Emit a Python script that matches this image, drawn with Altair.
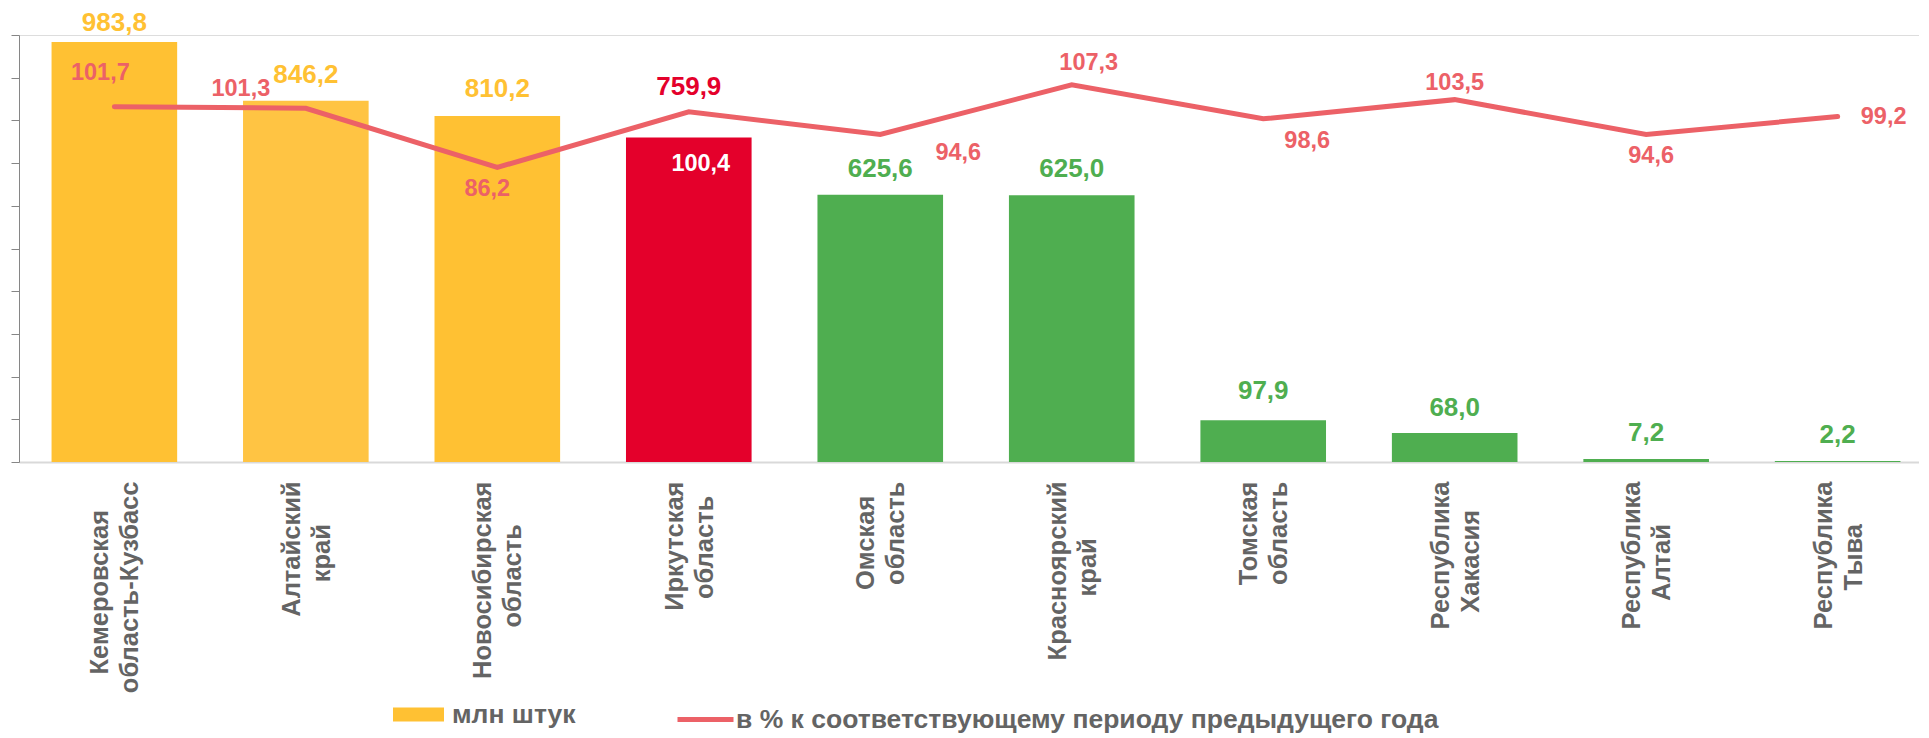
import altair as alt
import pandas as pd

# ---------------- data ----------------
region_line1 = ["Кемеровская", "Алтайский", "Новосибирская", "Иркутская", "Омская",
                "Красноярский", "Томская", "Республика", "Республика", "Республика"]
region_line2 = ["область-Кузбасс", "край", "область", "область", "область",
                "край", "область", "Хакасия", "Алтай", "Тыва"]
production_mln = [983.8, 846.2, 810.2, 759.9, 625.6, 625.0, 97.9, 68.0, 7.2, 2.2]
pct_prev_year = [101.7, 101.3, 86.2, 100.4, 94.6, 107.3, 98.6, 103.5, 94.6, 99.2]
bar_group = ["млн штук", "light", "млн штук", "red", "green",
             "green", "green", "green", "green", "green"]
bar_series = "млн штук"
line_series = "в % к соответствующему периоду предыдущего года"
y_ticks = list(range(0, 1001, 100))

# ---------------- styles ----------------
FONT = "Liberation Sans"
GREY = "#646464"
YELLOW = "#FFC133"
YELLOW_LIGHT = "#FFC443"
RED = "#E4002B"
GREEN = "#4FAE50"
LINE = "#EC6167"

group_domain = ["млн штук", "light", "red", "green"]
group_range = [YELLOW, YELLOW_LIGHT, RED, GREEN]
bar_label_color = {"млн штук": YELLOW, "light": YELLOW, "red": RED, "green": GREEN}

# label offsets (pixels, relative to bar top / line point)
bar_label_dy = [-19, -26, -27, -51, -26, -26, -29, -25, -26, -26]
pct_label_dx = [-14, -65, -10, 12, 78, 17, 44, 0, 5, 46]
pct_label_dy = [-34, -19, 22, 52, 18, -22, 22, -17, 21, 1]
pct_label_color = [LINE, LINE, LINE, "#FFFFFF", LINE, LINE, LINE, LINE, LINE, LINE]

PAD = "\u2007"   # figure space
JOIN = "\u2060"  # word joiner keeps the padding from being trimmed


def block(a, b):
    # two-line axis label, shorter line padded so the lines look centred
    n = round(abs(len(a) - len(b)) * 0.54)
    if n:
        if len(a) < len(b):
            a = a + PAD * n + JOIN
        else:
            b = b + PAD * n + JOIN
    return a + "|" + b


labels = [block(a, b) for a, b in zip(region_line1, region_line2)]

df = pd.DataFrame({
    "region": labels,
    "mln": production_mln,
    "pct": pct_prev_year,
    "grp": bar_group,
    "series": line_series,
})
df["mln_text"] = df["mln"].map(lambda v: f"{v:.1f}".replace(".", ","))
df["pct_text"] = df["pct"].map(lambda v: f"{v:.1f}".replace(".", ","))

x_scale = alt.Scale(range=[0, 1914], paddingInner=0.344, paddingOuter=0.17)
x_axis = alt.Axis(
    title=None, orient="bottom", labelAngle=-90, labelAlign="right", labelBaseline="middle",
    labelExpr="split(datum.value, '|')", labelFont=FONT, labelFontSize=25.5,
    labelFontWeight="bold", labelColor=GREY, labelPadding=19, labelLineHeight=30,
    labelOffset=-14,
    labelLimit=600, labelOverlap=False, labelBound=False, ticks=False,
    domainColor="#D9D9D9", domainWidth=2,
)
x_enc = alt.X("region:N", sort=labels, scale=x_scale, axis=x_axis)

bar_y_scale = alt.Scale(domain=[0, 1000], nice=False, zero=True)
pct_y_scale = alt.Scale(domain=[11, 120], nice=False, zero=False)

base = alt.Chart(df)

bars = base.mark_bar().encode(
    x=x_enc,
    y=alt.Y("mln:Q", scale=bar_y_scale,
            axis=alt.Axis(title=None, orient="left", values=y_ticks, labels=False, grid=False,
                          tickSize=8, tickColor="#868686", domainColor="#868686")),
    color=alt.Color("grp:N", scale=alt.Scale(domain=group_domain, range=group_range),
                    legend=alt.Legend(
                        title=None, orient="none", legendX=374, legendY=654,
                        values=[bar_series],
                        symbolType="M-1,-0.275H1V0.275H-1Z", symbolSize=2601,
                        symbolStrokeWidth=0, symbolOpacity=1,
                        labelFont=FONT, labelFontSize=26.5, labelFontWeight="bold",
                        labelColor=GREY, labelOffset=8, padding=0)),
)

line = base.mark_line(strokeWidth=5, strokeCap="round").encode(
    x=x_enc,
    y=alt.Y("pct:Q", scale=pct_y_scale, axis=None),
    stroke=alt.Stroke("series:N", scale=alt.Scale(domain=[line_series], range=[LINE]),
                      legend=alt.Legend(
                          title=None, orient="none", legendX=656, legendY=654,
                          symbolType="stroke", symbolSize=3136, symbolStrokeWidth=5,
                          symbolStrokeColor=LINE,
                          labelFont=FONT, labelFontSize=26.5, labelFontWeight="bold",
                          labelColor=GREY, labelOffset=0, padding=0, labelLimit=900)),
)

layers = [bars, line]

for i, lab in enumerate(labels):
    layers.append(
        base.transform_filter(alt.datum.region == lab)
        .mark_text(font=FONT, fontSize=26, fontWeight="bold", baseline="middle",
                   align="center", dy=bar_label_dy[i], color=bar_label_color[bar_group[i]])
        .encode(x=x_enc, y=alt.Y("mln:Q", scale=bar_y_scale, axis=None), text="mln_text:N")
    )
    layers.append(
        base.transform_filter(alt.datum.region == lab)
        .mark_text(font=FONT, fontSize=23.5, fontWeight="bold", baseline="middle",
                   align="center", dx=pct_label_dx[i], dy=pct_label_dy[i],
                   color=pct_label_color[i])
        .encode(x=x_enc, y=alt.Y("pct:Q", scale=pct_y_scale, axis=None), text="pct_text:N")
    )

chart = (
    alt.layer(*layers)
    .resolve_scale(y="independent")
    .properties(
        width=1900, height=427,
        autosize=alt.AutoSizeParams(type="none"),
        padding={"left": 11, "top": 27, "right": 0, "bottom": 278},
    )
    .configure_view(stroke=None)
    .configure(font=FONT)
)

chart.save("out.html", embed_options={"renderer": "svg", "actions": False})
